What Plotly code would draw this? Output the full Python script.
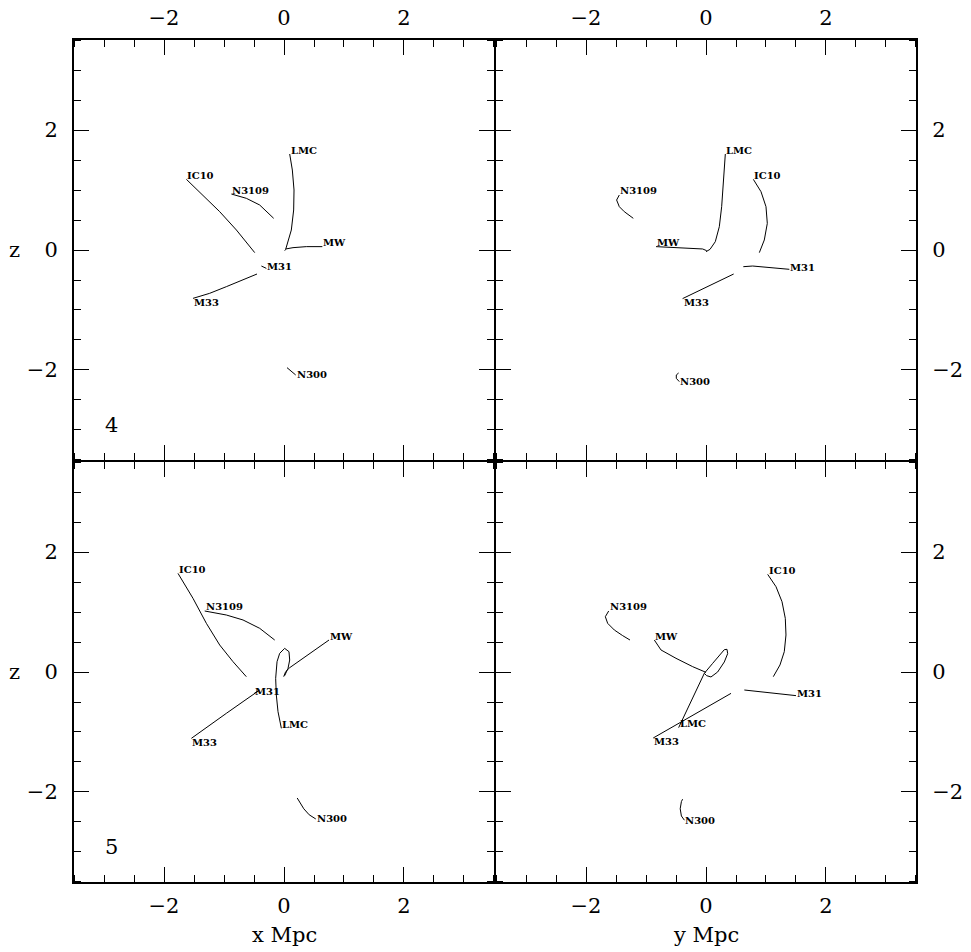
import plotly.graph_objects as go
from plotly.subplots import make_subplots

# ---------------- data (Mpc) : first point = labelled (present) end ----------------
# Panel 4, x-z projection
P4_XZ = {
    "IC10":  ([-1.627, -1.35, -1.072, -0.793, -0.488], [1.178, 0.917, 0.639, 0.333, -0.044]),
    "N3109": ([-0.877, -0.627, -0.405, -0.172], [0.933, 0.861, 0.75, 0.528]),
    "LMC":   ([0.095, 0.139, 0.167, 0.161, 0.122, 0.056, 0.028, 0.012], [1.60, 1.333, 1.0, 0.667, 0.333, 0.083, 0.011, -0.011]),
    "MW":    ([0.639, 0.372, 0.15, 0.028], [0.056, 0.056, 0.039, 0.017]),
    "M31":   ([-0.294, -0.377], [-0.306, -0.267]),
    "M33":   ([-1.517, -1.239, -0.961, -0.683, -0.45], [-0.806, -0.722, -0.611, -0.489, -0.40]),
    "N300":  ([0.195, 0.123, 0.05], [-2.083, -2.017, -1.961]),
}
# Panel 4, y-z projection
P4_YZ = {
    "N3109": ([-1.445, -1.49, -1.445, -1.362, -1.212], [0.917, 0.833, 0.722, 0.639, 0.528]),
    "LMC":   ([0.322, 0.294, 0.261, 0.222, 0.155, 0.067, 0.0], [1.60, 1.167, 0.722, 0.389, 0.139, 0.011, -0.028]),
    "MW":    ([-0.833, -0.389, -0.056, 0.011], [0.056, 0.039, 0.017, -0.011]),
    "IC10":  ([0.789, 0.917, 1.0, 1.022, 0.972, 0.889], [1.178, 0.972, 0.722, 0.444, 0.167, -0.044]),
    "M31":   ([1.389, 1.055, 0.778, 0.622], [-0.322, -0.289, -0.267, -0.278]),
    "M33":   ([-0.39, 0.03, 0.461], [-0.81, -0.61, -0.40]),
    "N300":  ([-0.445, -0.495, -0.495, -0.456], [-2.194, -2.139, -2.083, -2.05]),
}
# Panel 5, x-z projection
P5_XZ = {
    "IC10":  ([-1.767, -1.517, -1.294, -1.072, -0.85, -0.628], [1.644, 1.228, 0.811, 0.45, 0.172, -0.078]),
    "N3109": ([-1.322, -0.961, -0.683, -0.405, -0.155], [1.017, 0.95, 0.867, 0.728, 0.533]),
    "MW":    ([0.75, 0.483, 0.261, 0.095, 0.028, -0.005], [0.533, 0.339, 0.183, 0.072, 0.006, -0.078]),
    "LMC":   ([-0.044, -0.1, -0.128, -0.139, -0.116, -0.072, 0.011, 0.083, 0.095, 0.067, 0.011],
              [-0.939, -0.661, -0.383, -0.106, 0.172, 0.311, 0.394, 0.339, 0.2, 0.061, -0.061]),
    "M31":   ([-0.50, -0.44], [-0.36, -0.32]),
    "M33":   ([-1.544, -1.239, -0.961, -0.683, -0.405], [-1.106, -0.883, -0.689, -0.494, -0.30]),
    "N300":  ([0.53, 0.42, 0.33, 0.26, 0.22], [-2.45, -2.38, -2.28, -2.17, -2.10]),
}
# Panel 5, y-z projection
P5_YZ = {
    "IC10":  ([1.028, 1.167, 1.267, 1.322, 1.333, 1.305, 1.233, 1.122], [1.628, 1.422, 1.172, 0.894, 0.617, 0.339, 0.117, -0.078]),
    "N3109": ([-1.622, -1.678, -1.639, -1.528, -1.389, -1.267], [1.017, 0.922, 0.811, 0.70, 0.606, 0.533]),
    "MW":    ([-0.861, -0.75, -0.5, -0.222, 0.0], [0.533, 0.367, 0.228, 0.089, -0.006]),
    "LMC":   ([-0.456, -0.222, -0.028, 0.111, 0.222, 0.305, 0.35, 0.361, 0.305, 0.194, 0.083, 0.011, -0.028],
              [-0.928, -0.439, -0.022, 0.144, 0.278, 0.372, 0.378, 0.306, 0.167, 0.0, -0.083, -0.061, -0.022]),
    "M31":   ([1.5, 1.167, 0.833, 0.639], [-0.394, -0.356, -0.317, -0.30]),
    "M33":   ([-0.88, -0.23, 0.417], [-1.10, -0.73, -0.356]),
    "N300":  ([-0.36, -0.41, -0.43, -0.41, -0.39], [-2.47, -2.40, -2.28, -2.16, -2.12]),
}
PANEL_NUMBERS = ["4", "5"]
TICK_VALUES = [-2, 0, 2]
AXIS_TITLES = ["x Mpc", "y Mpc"]
Z_TITLE = "z"

# ---------------- style ----------------
LABEL_YSHIFT = {"IC10": 4, "LMC": 4, "N3109": 4, "MW": 4, "M31": 2, "M33": -4, "N300": 0}
RANGE = [-3.517, 3.517]
SERIF = "DejaVu Serif"

fig = make_subplots(rows=2, cols=2, horizontal_spacing=0, vertical_spacing=0)

panels = [(P4_XZ, 1, 1, "x", "y"), (P4_YZ, 1, 2, "x2", "y2"),
          (P5_XZ, 2, 1, "x3", "y3"), (P5_YZ, 2, 2, "x4", "y4")]

for data, r, c, xr, yr in panels:
    for name, (xs, zs) in data.items():
        fig.add_trace(go.Scatter(x=xs, y=zs, mode="lines", line=dict(color="black", width=1),
                                 showlegend=False, hoverinfo="skip"), row=r, col=c)
        fig.add_annotation(x=xs[0], y=zs[0], xref=xr, yref=yr, text="<b>%s</b>" % name, showarrow=False,
                           xanchor="left", yanchor="middle", yshift=LABEL_YSHIFT[name],
                           font=dict(family=SERIF, size=10, color="black"), borderpad=0)

axis_common = dict(range=RANGE, showline=True, linewidth=1, linecolor="black", mirror="allticks",
                   ticks="inside", ticklen=16, tickwidth=1, tickcolor="black",
                   tickmode="array", tickvals=TICK_VALUES,
                   minor=dict(dtick=0.5, tick0=0, ticklen=8, tickwidth=1, tickcolor="black", ticks="inside"),
                   showgrid=False, zeroline=False, fixedrange=True, automargin=False,
                   tickfont=dict(family=SERIF, size=21, color="black"))

for i, (r, c) in enumerate([(1, 1), (1, 2), (2, 1), (2, 2)]):
    fig.update_xaxes(axis_common, side="top" if r == 1 else "bottom",
                     ticklabelstandoff=5 if r == 1 else 4, row=r, col=c)
    fig.update_yaxes(axis_common, side="left" if c == 1 else "right",
                     ticklabelstandoff=10, row=r, col=c)

# outer frame (heavier, as in the reference)
fig.add_shape(type="rect", xref="paper", yref="paper", x0=0, x1=1, y0=0, y1=1,
              line=dict(color="black", width=2), layer="above")

# panel numbers
for num, yref, xref in zip(PANEL_NUMBERS, ["y domain", "y3 domain"], ["x domain", "x3 domain"]):
    fig.add_annotation(x=0.092, y=0.085, xref=xref, yref=yref, text=num, showarrow=False,
                       xanchor="center", yanchor="middle", font=dict(family=SERIF, size=21, color="black"))

# axis titles
for title, xref, yref in zip(AXIS_TITLES, ["x3", "x4"], ["y3 domain", "y4 domain"]):
    fig.add_annotation(x=0, y=-0.123, xref=xref, yref=yref, text=title, showarrow=False,
                       xanchor="center", yanchor="middle", font=dict(family=SERIF, size=21, color="black"))
for xref, yref in [("x domain", "y"), ("x3 domain", "y3")]:
    fig.add_annotation(x=-0.138, y=0, xref=xref, yref=yref, text=Z_TITLE, showarrow=False,
                       xanchor="center", yanchor="middle", font=dict(family=SERIF, size=21, color="black"))

# the page body has an 8px default margin, so the figure is sized/offset to compensate
fig.update_layout(width=963, height=944, margin=dict(l=65, r=54, t=31, b=69, autoexpand=False),
                  plot_bgcolor="white", paper_bgcolor="white", showlegend=False)

fig.write_html("out.html")
